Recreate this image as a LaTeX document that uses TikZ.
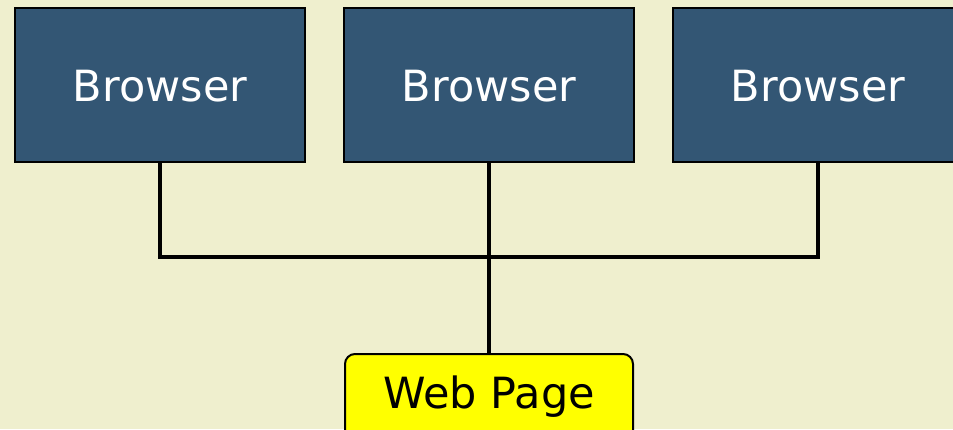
\documentclass[tikz,border=0pt]{standalone}
\usepackage{fontspec}
\setmainfont{DejaVu Sans}
\definecolor{bgc}{RGB}{239,239,206}
\definecolor{boxc}{RGB}{51,86,116}
\definecolor{webc}{RGB}{255,255,0}
\begin{document}
\begin{tikzpicture}[x=1pt,y=-1pt,
  browserbox/.style={draw=black, line width=2pt, fill=boxc, text=white,
    minimum width=290pt, inner xsep=0pt, inner ysep=0pt,
    text height=93pt, text depth=61pt, anchor=north,
    font=\fontsize{43}{50}\selectfont},
  webbox/.style={draw=black, line width=2pt, fill=webc, text=black,
    rounded corners=10pt, minimum width=288pt, inner xsep=0pt, inner ysep=0pt,
    text height=54pt, text depth=60pt, anchor=north,
    font=\fontsize{43}{50}\selectfont},
  wire/.style={draw=black, line width=3.5pt}]
\fill[bgc] (0,0) rectangle (953,429);
\useasboundingbox (0,0) rectangle (953,429);
\node[browserbox] (b1) at (160,7) {Browser};
\node[browserbox] (b2) at (489,7) {Browser};
\node[browserbox] (b3) at (818,7) {Browser};
\node[webbox] (web) at (489,353) {Web Page};
\coordinate (j1) at (160,257);
\coordinate (j3) at (818,257);
\draw[wire] (b1.south) -- (j1) -- (j3) -- (b3.south);
\draw[wire] (b2.south) -- (web.north);
\end{tikzpicture}
\end{document}
